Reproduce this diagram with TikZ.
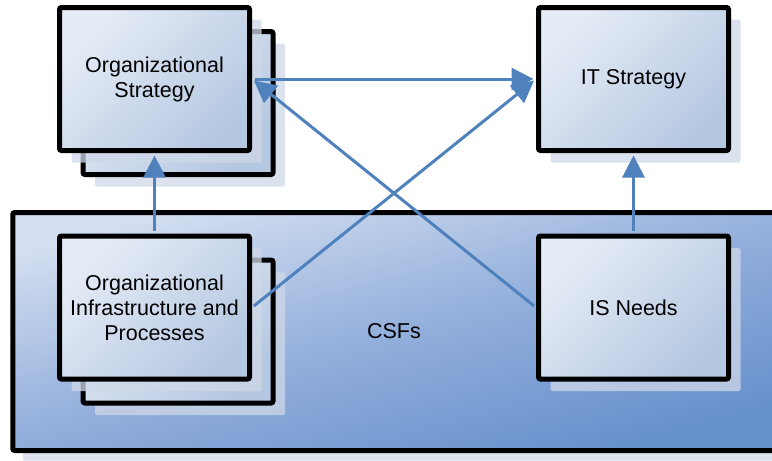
\documentclass[tikz,border=0pt]{standalone}
\usepackage{fontspec}
\setmainfont{Liberation Sans}
\usetikzlibrary{positioning, calc, arrows.meta, backgrounds}
\definecolor{boxlight}{HTML}{E6ECF6}
\definecolor{boxdark}{HTML}{B5C8E2}
\definecolor{csflight}{HTML}{D3DEF0}
\definecolor{csfmid}{HTML}{93AFDC}
\definecolor{csfdark}{HTML}{6690CB}
\definecolor{linkblue}{HTML}{4F81BD}
\definecolor{shadowgrey}{HTML}{CFD8E8}
\tikzstyle{box} = [rectangle, draw=black, line width=5pt, rounded corners=2pt, minimum width=190pt, minimum height=143pt, inner sep=0pt, align=center, top color=boxlight, bottom color=boxdark, shading angle=45, font=\fontsize{21.5}{25}\selectfont]
\tikzstyle{bigbox} = [box, minimum width=762.5pt, minimum height=238pt, top color=csflight, bottom color=csfdark, middle color=csfmid, shading angle=15]
\tikzstyle{shadowfill} = [fill=shadowgrey, fill opacity=0.75]
\tikzstyle{link} = [line width=3pt, draw=linkblue, shorten >=2.5pt, shorten <=2.5pt, -{Triangle[length=22pt,width=22pt]}]

\begin{document}
\begin{tikzpicture}[x=1pt,y=1pt,node distance=228.5pt,on grid]
	\useasboundingbox (0,-461) rectangle (772,0);
	\clip (0,-461) rectangle (772,0);
	\node[box](orgstrat) at (154.5,-79){Organizational\\Strategy};
	\node[box][below=of orgstrat](orginfra){Organizational\\Infrastructure and\\Processes};
	\node[box][right=479pt of orgstrat](itstrat){IT Strategy};
	\node[box][below=of itstrat](isneeds){IS Needs};
	\begin{scope}[on background layer]
	\clip (0,-461) rectangle (772,0);
	% CSFs area and its shadow
	\node[bigbox,shade=false,draw=none,shadowfill](csfs_shadow) at (404,-341.5){};
	\node[bigbox](csfs) at (394,-331.5){CSFs};
	% stacked copies behind the left boxes
	\node[box,shade=false,draw=none,shadowfill] at ($(orgstrat)+(35.5,-36)$){};
	\node[box](orgstrat_back) at ($(orgstrat)+(23.5,-24)$){};
	\node[box,shade=false,draw=none,shadowfill] at ($(orginfra)+(35.5,-36)$){};
	\node[box](orginfra_back) at ($(orginfra)+(23.5,-24)$){};
	% shadows of the front boxes
	\node[box,shade=false,draw=none,shadowfill] at ($(orgstrat)+(12,-12)$){};
	\node[box,shade=false,draw=none,shadowfill] at ($(orginfra)+(12,-12)$){};
	\node[box,shade=false,draw=none,shadowfill] at ($(itstrat)+(12,-12)$){};
	\node[box,shade=false,draw=none,shadowfill] at ($(isneeds)+(12,-12)$){};
	\end{scope}
	\draw[link] (orginfra.north) -- (orgstrat.south);
	\draw[link] (isneeds.north) -- (itstrat.south);
	\draw[link] (orgstrat.east) -- (itstrat.west);
	\draw[link] (orginfra.east) -- (itstrat.west);
	\draw[link] (isneeds.west) -- (orgstrat.east);
\end{tikzpicture}
\end{document}
